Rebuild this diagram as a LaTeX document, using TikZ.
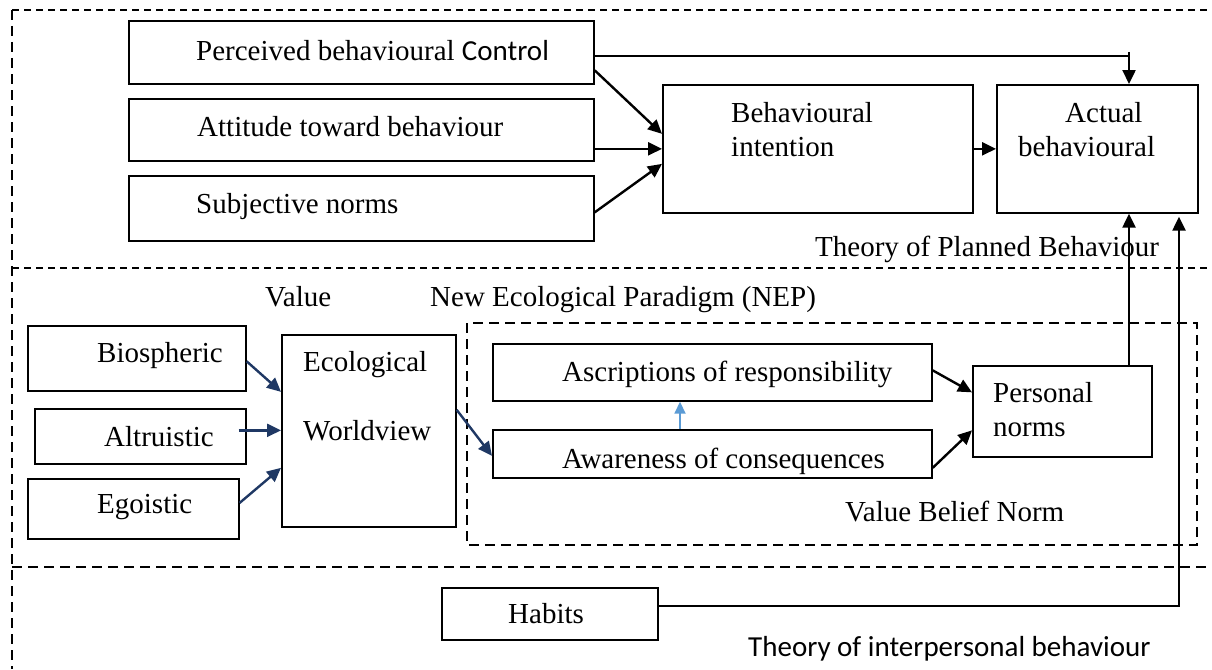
\documentclass[tikz,border=0pt]{standalone}
\usepackage{fontspec}
\setmainfont{Liberation Serif}
\newfontfamily\calib{Carlito}
\usetikzlibrary{arrows.meta,calc}
\definecolor{navy}{RGB}{31,56,100}
\definecolor{lblue}{RGB}{91,155,213}
\begin{document}
\begin{tikzpicture}[x=1pt,y=-1pt,
  box/.style={draw, line width=1.7pt, inner sep=0pt, anchor=north west},
  txt/.style={inner sep=0pt, anchor=base west, font=\fontsize{29}{34}\selectfont, align=left},
  arr/.style={line width=2.4pt, -{Triangle[length=14pt,width=13pt]}},
  barr/.style={arr, draw=navy},
  larr/.style={line width=1.8pt, draw=lblue, -{Triangle[length=12pt,width=11pt]}},
  septhin/.style={line width=1.5pt, dash pattern=on 7pt off 5pt},
  septhick/.style={line width=2.6pt, dash pattern=on 10pt off 6pt},
  grp/.style={line width=2.5pt, dash pattern=on 10pt off 6pt}
]
\useasboundingbox (0,0) rectangle (1212,669);

% group separators
\draw[septhin] (12,10) -- (1212,10);
\draw[septhick] (12,10) -- (12,669);
\draw[septhin] (12,268) -- (1212,268);
\draw[septhick] (12,567) -- (1212,567);
\draw[grp] (467,323) rectangle (1197,545);

% boxes
\node[box, minimum width=465pt, minimum height=63pt] (pbc) at (128,20) {};
\node[box, minimum width=465pt, minimum height=62pt] (atb) at (128,98) {};
\node[box, minimum width=465pt, minimum height=65pt] (sn) at (128,175) {};
\node[box, minimum width=310pt, minimum height=128pt] (bi) at (662,84) {};
\node[box, minimum width=201pt, minimum height=128pt] (ab) at (996,84) {};
\node[box, minimum width=218pt, minimum height=65pt] (bio) at (27,325) {};
\node[box, minimum width=211pt, minimum height=55pt] (alt) at (34,408) {};
\node[box, minimum width=211pt, minimum height=60pt] (ego) at (27,478) {};
\node[box, minimum width=174pt, minimum height=192pt] (ew) at (281,334) {};
\node[box, minimum width=439pt, minimum height=57pt] (asc) at (492,343) {};
\node[box, minimum width=439pt, minimum height=48pt] (aw) at (492,429) {};
\node[box, minimum width=179pt, minimum height=91pt] (pn) at (972,365) {};
\node[box, minimum width=216pt, minimum height=52pt] (hab) at (441,587) {};

% texts (multi-line nodes: base = last line)
\node[txt] (pbct) at (196,60) {Perceived behavioural {\calib Control}};
\node[txt] (atbt) at (197,136) {Attitude toward behaviour};
\node[txt] (snt) at (196,213) {Subjective norms};
\node[txt] (bit) at (731,156) {Behavioural\\intention};
\node[txt] (abt) at (1018,156) {\hspace*{47pt}Actual\\behavioural};
\node[txt] (tpb) at (815,256) {Theory of Planned Behaviour};
\node[txt] (val) at (265,306) {Value};
\node[txt] (nep) at (430,306) {New Ecological Paradigm (NEP)};
\node[txt] (biot) at (97,362) {Biospheric};
\node[txt] (altt) at (104,446) {Altruistic};
\node[txt] (egot) at (97,513) {Egoistic};
\node[txt] (ewt) at (303,440) {Ecological\\[35pt]Worldview};
\node[txt] (asct) at (562,381) {Ascriptions of responsibility};
\node[txt] (awt) at (562,468) {Awareness of consequences};
\node[txt] (pnt) at (993,436) {Personal\\norms};
\node[txt] (vbn) at (845,521) {Value Belief Norm};
\node[txt] (habt) at (508,623) {Habits};
\node[txt, font=\calib\fontsize{29}{34}\selectfont] (tib) at (748,656) {Theory of interpersonal behaviour};

% connectors: theory of planned behaviour
\coordinate (c1) at (1129,56);
\draw[line width=2.4pt] (pbc.east |- c1) -- (c1);
\draw[arr] ([yshift=4pt]c1) -- (c1 |- ab.north);
\draw[arr] ([yshift=-18pt]pbc.east) -- ([yshift=15pt]bi.west);
\draw[arr] (atb.east |- bi.west) -- (bi.west);
\draw[arr] ([yshift=-4pt]sn.east) -- ([yshift=-15pt]bi.west);
\draw[arr] (bi.east) -- (ab.west);

% value -> worldview
\coordinate (c3) at ([xshift=-8pt,yshift=6pt]alt.east);
\draw[barr] ([yshift=-3pt]bio.east) -- ([yshift=39pt]ew.west);
\draw[barr] (c3) -- (ew.west |- c3);
\draw[barr] ([yshift=6pt]ego.east) -- ([yshift=-37pt]ew.west);
\draw[barr] ([yshift=21pt]ew.east) -- ([yshift=-2pt]aw.west);

% value belief norm
\coordinate (c4) at (680,0);
\draw[larr] (aw.north -| c4) -- (asc.south -| c4);
\draw[arr] ([yshift=2pt]asc.east) -- ([yshift=19pt]pn.west);
\draw[arr] ([yshift=-14pt]aw.east) -- ([yshift=-19pt]pn.west);
\draw[arr] (pn.north -| c1) -- (ab.south -| c1);

% habits
\coordinate (c2) at (1179,606);
\draw[arr, shorten >=3pt] (hab.east |- c2) -- (c2) -- (c2 |- ab.south);
\end{tikzpicture}
\end{document}
